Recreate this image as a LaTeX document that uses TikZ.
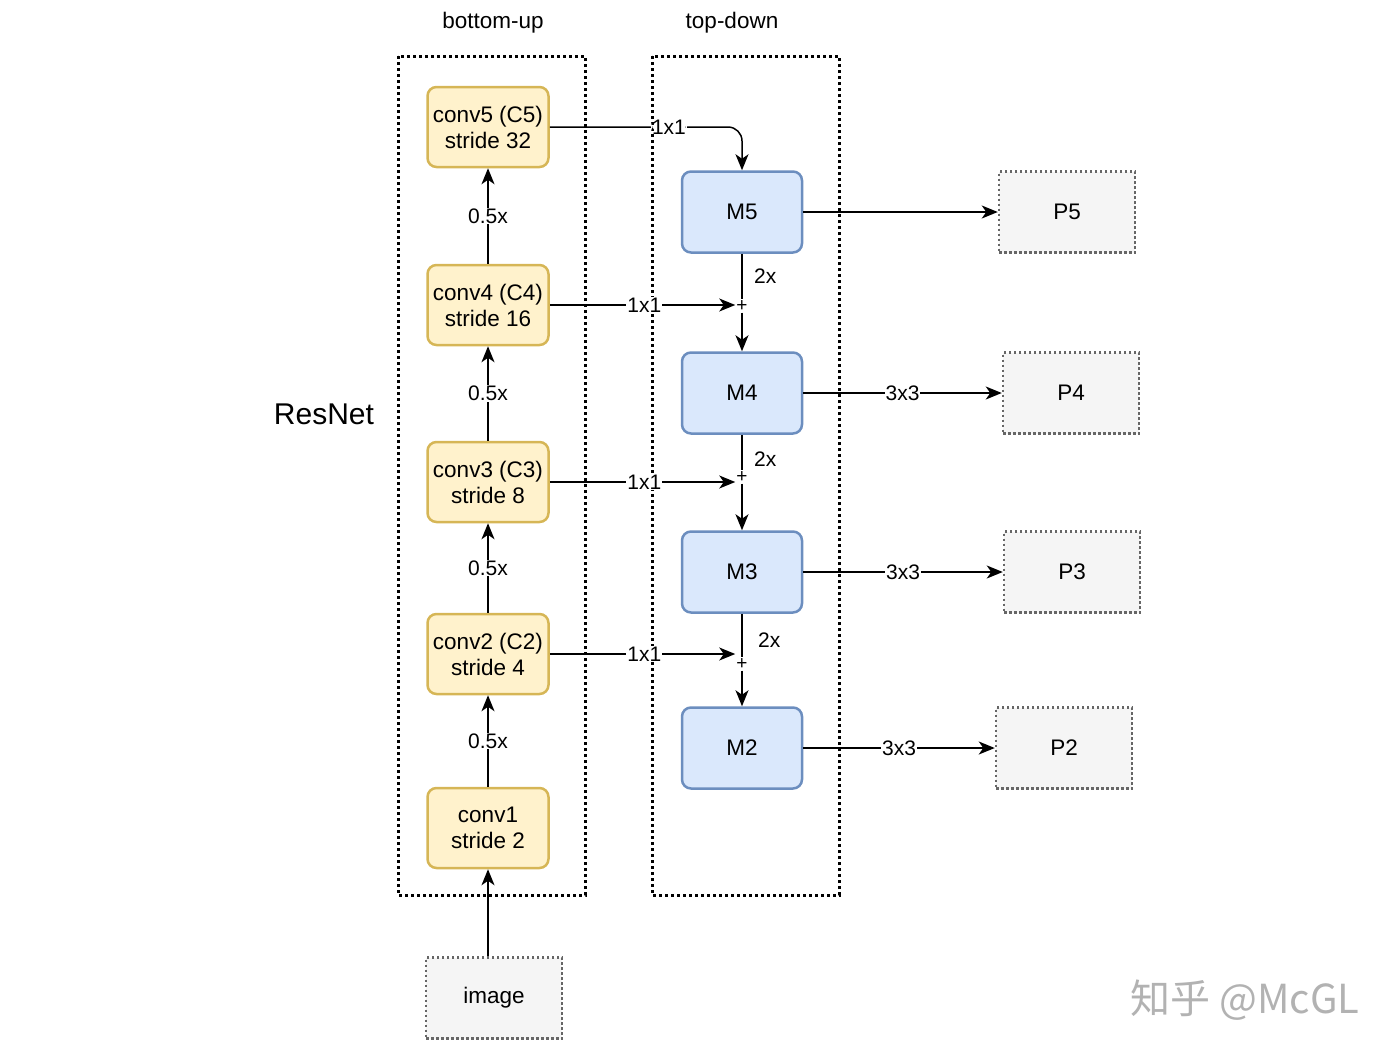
\documentclass[tikz,border=0pt]{standalone}
\usepackage{fontspec}
\setmainfont{Liberation Sans}
\newfontfamily\cjk{Noto Sans CJK SC}
\usetikzlibrary{arrows.meta}
\definecolor{convfill}{HTML}{FFF2CC}
\definecolor{convline}{HTML}{D6B656}
\definecolor{mfill}{HTML}{DAE8FC}
\definecolor{mline}{HTML}{6C8EBF}
\definecolor{pfill}{HTML}{F5F5F5}
\definecolor{pline}{HTML}{666666}
\begin{document}
\begin{tikzpicture}[x=1pt,y=-1pt]
	\tikzstyle{every node}=[font=\fontsize{22.5}{26}\selectfont]
	\tikzstyle{conv}=[draw=convline, fill=convfill, line width=2.5pt, rounded corners=9pt, minimum width=121pt, minimum height=80pt, align=center]
	\tikzstyle{mbox}=[draw=mline, fill=mfill, line width=2.5pt, rounded corners=9pt, minimum width=120pt, minimum height=81pt]
	\tikzstyle{pbox}=[draw=pline, fill=pfill, line width=2.5pt, dash pattern=on 2.5pt off 2.5pt, minimum width=136pt, minimum height=81pt]
	\tikzstyle{cont}=[draw=black, line width=3pt, dash pattern=on 3pt off 3pt]
	\tikzstyle{arr}=[line width=1.5pt, -{Stealth[length=16pt,width=13pt,inset=4.5pt]}]
	\tikzstyle{ln}=[line width=1.5pt]
	\tikzstyle{lbl}=[fill=white, inner sep=1pt, font=\fontsize{21}{24}\selectfont]
	\tikzstyle{tlbl}=[font=\fontsize{21}{24}\selectfont]
	\tikzstyle{plus}=[inner sep=1pt, font=\fontsize{19}{19}\selectfont]
	\useasboundingbox (0,0) rectangle (1400,1058);
	% containers
	\draw [cont] (398,56) rectangle (585,895);
	\draw [cont] (652,56) rectangle (839,895);
	\node (tbu) at (493,23) {bottom-up};
	\node (ttd) at (732,23) {top-down};
	\node (rn) at (324,414) {\fontsize{30}{34}\selectfont ResNet};
	% bottom-up
	\node [conv] (c5) at (488,127) {conv5 (C5)\\stride 32};
	\node [conv] (c4) at (488,305) {conv4 (C4)\\stride 16};
	\node [conv] (c3) at (488,482) {conv3 (C3)\\stride 8};
	\node [conv] (c2) at (488,654) {conv2 (C2)\\stride 4};
	\node [conv] (c1) at (488,828) {conv1\\stride 2};
	\node [pbox] (img) at (494,998) {image};
	% top-down
	\node [mbox] (m5) at (742,212) {M5};
	\node [mbox] (m4) at (742,393) {M4};
	\node [mbox] (m3) at (742,572) {M3};
	\node [mbox] (m2) at (742,748) {M2};
	\node [plus] (s4) at (742,306) {+};
	\node [plus] (s3) at (742,477) {+};
	\node [plus] (s2) at (742,664) {+};
	\node [pbox] (p5) at (1067,212) {P5};
	\node [pbox] (p4) at (1071,393) {P4};
	\node [pbox] (p3) at (1072,572) {P3};
	\node [pbox] (p2) at (1064,748) {P2};
	% connectors
	\draw [arr] (c1.south |- img.north) -- (c1.south);
	\draw [arr] (c1.north) -- node[lbl]{0.5x} (c2.south);
	\draw [arr] (c2.north) -- node[lbl]{0.5x} (c3.south);
	\draw [arr] (c3.north) -- node[lbl]{0.5x} (c4.south);
	\draw [arr] (c4.north) -- node[lbl]{0.5x} (c5.south);
	\draw [arr, rounded corners=14pt] (c5.east) -| node[lbl, pos=0.31]{1x1} (m5.north);
	\draw [arr] (c4.east) -- node[lbl, pos=0.51]{1x1} (s4.west |- c4.east);
	\draw [arr] (c3.east) -- node[lbl, pos=0.51]{1x1} (s3.west |- c3.east);
	\draw [arr] (c2.east) -- node[lbl, pos=0.51]{1x1} (s2.west |- c2.east);
	\draw [ln] (m5.south) -- node[tlbl, right=8pt]{2x} (s4.north);
	\draw [ln] (m4.south) -- node[tlbl, right=8pt, yshift=-7pt]{2x} (s3.north);
	\draw [ln] (m3.south) -- node[tlbl, right=12pt, yshift=-5pt]{2x} (s2.north);
	\draw [arr] (s4.south) -- (m4.north);
	\draw [arr] (s3.south) -- (m3.north);
	\draw [arr] (s2.south) -- (m2.north);
	\draw [arr] (m5.east) -- (p5.west);
	\draw [arr] (m4.east) -- node[lbl]{3x3} (p4.west);
	\draw [arr] (m3.east) -- node[lbl]{3x3} (p3.west);
	\draw [arr] (m2.east) -- node[lbl]{3x3} (p2.west);
	% watermark
	\node [text=black!30, font=\cjk\fontsize{40}{44}\selectfont] (wm) at (1245,1000) {知乎 @McGL};
\end{tikzpicture}
\end{document}
